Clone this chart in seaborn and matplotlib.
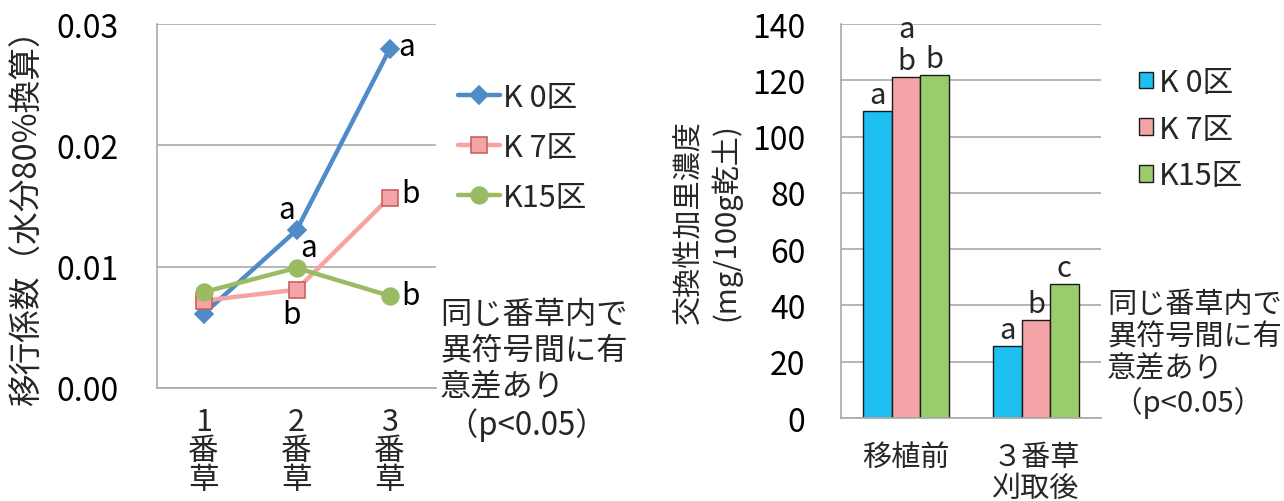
import matplotlib
matplotlib.use("Agg")
import matplotlib.pyplot as plt
import seaborn as sns
import pandas as pd
from matplotlib.lines import Line2D
from matplotlib.patches import Patch

# ---------------- data ----------------
cuts = ["1\n番\n草", "2\n番\n草", "3\n番\n草"]
plots = ["K 0区", "K 7区", "K15区"]
coef_k0 = [0.0061, 0.0130, 0.0279]
coef_k7 = [0.0072, 0.0081, 0.0157]
coef_k15 = [0.0079, 0.0099, 0.0076]
coef_letters_k0 = ["", "a", "a"]
coef_letters_k7 = ["", "b", "b"]
coef_letters_k15 = ["", "a", "b"]

times = ["移植前", "３番草\n刈取後"]
k_k0 = [109, 25.5]
k_k7 = [121, 34.7]
k_k15 = [122, 47.7]
bar_letters_k0 = ["a", "a"]
bar_letters_k7 = ["a\nb", "b"]
bar_letters_k15 = ["b", "c"]

left_yticks = [0.00, 0.01, 0.02, 0.03]
right_yticks = [0, 20, 40, 60, 80, 100, 120, 140]
note = "同じ番草内で\n異符号間に有\n意差あり\n （p<0.05）"

# ---------------- style ----------------
sns.set_theme(style="white")
plt.rcParams['font.family'] = ['Noto Sans CJK JP', 'DejaVu Sans']

line_colors = ["#4F8BC6", "#F7A3A5", "#9BBB63"]
marker_faces = ["#4F8BC6", "#F4A3A6", "#9BBB63"]
marker_edges = ["#4F8BC6", "#C8605E", "#9BBB63"]
markers = ["D", "s", "o"]
msizes = [9, 11, 12]
bar_colors = ["#1DC0F0", "#F4A3A6", "#9BCC6B"]
grid_c = "#A9A9A9"

W, H = 1284, 502
fig = plt.figure(figsize=(W / 100, H / 100), dpi=100)

def px_axes(l, t, r, b):
    return fig.add_axes([l / W, 1 - b / H, (r - l) / W, (b - t) / H])

def style_axes(ax, ypad):
    ax.tick_params(axis="x", which="major", length=6.5, color=grid_c, width=1.2, direction="out")
    ax.tick_params(axis="y", length=6.5, color=grid_c, width=1.2, pad=ypad, direction="out",
                   labelcolor="black")
    ax.yaxis.grid(True, color=grid_c, lw=1.2)
    ax.set_axisbelow(True)
    ax.set_xlabel("")
    ax.set_ylabel("")
    for s in ["top", "right"]:
        ax.spines[s].set_visible(False)
    for s in ["left", "bottom"]:
        ax.spines[s].set_color(grid_c)
        ax.spines[s].set_linewidth(1.2)

# ---------------- left chart ----------------
ax1 = px_axes(157, 25, 436, 389)
series = [coef_k0, coef_k7, coef_k15]
letters = [coef_letters_k0, coef_letters_k7, coef_letters_k15]
offsets = [
    [(0, 0), (-10, 21), (17, 3)],
    [(0, 0), (-5, -25), (21, 4)],
    [(0, 0), (12, 20), (21, 0)],
]
handles = []
for i, (vals, name) in enumerate(zip(series, plots)):
    df = pd.DataFrame({"cut": cuts, "val": vals})
    sns.lineplot(data=df, x="cut", y="val", ax=ax1, color=line_colors[i], lw=3.2,
                 marker=markers[i], markersize=msizes[i], markerfacecolor=marker_faces[i],
                 markeredgecolor=marker_edges[i], markeredgewidth=1.2, sort=False)
    for j, (v, lt) in enumerate(zip(vals, letters[i])):
        if lt:
            ax1.annotate(lt, (j, v), xytext=offsets[i][j], textcoords="offset pixels",
                         ha="center", va="center", fontsize=21.5, color="black")
    handles.append(Line2D([0], [0], color=line_colors[i], lw=3.2, marker=markers[i],
                          markersize=msizes[i], markerfacecolor=marker_faces[i],
                          markeredgecolor=marker_edges[i], markeredgewidth=1.2))

ax1.set_ylim(0, 0.03)
ax1.set_xlim(-0.5, 2.5)
ax1.set_yticks(left_yticks)
ax1.set_yticklabels([f"{v:.2f}" for v in left_yticks], fontsize=23)
ax1.set_xticks([-0.5, 0.5, 1.5, 2.5])
ax1.set_xticklabels([])
ax1.set_xticks([0, 1, 2], minor=True)
ax1.set_xticklabels(cuts, minor=True, fontsize=22, linespacing=0.92)
ax1.tick_params(axis="x", which="minor", length=0, pad=13)
style_axes(ax1, 21)

fig.text(28 / W, 1 - 210 / H, "移行係数（水分80%換算）", rotation=90, ha="center",
         va="center", fontsize=23.5)

fig.legend(handles, plots, loc="upper left", bbox_to_anchor=(458 / W, 1 - 83 / H),
           frameon=False, fontsize=22, handlelength=1.37, handletextpad=0.1,
           labelspacing=0.62, borderpad=0, borderaxespad=0)

fig.text(440 / W, 1 - 299 / H, note, ha="left", va="top", fontsize=22.5,
         linespacing=1.17)

# ---------------- right chart ----------------
ax2 = px_axes(841, 25, 1101, 419)
dfb = pd.DataFrame({
    "time": times * 3,
    "plot": [plots[0]] * 2 + [plots[1]] * 2 + [plots[2]] * 2,
    "val": k_k0 + k_k7 + k_k15,
})
sns.barplot(data=dfb, x="time", y="val", hue="plot", order=times, hue_order=plots,
            palette=bar_colors, width=0.655, edgecolor="#1a1a1a", linewidth=1.0,
            ax=ax2, legend=False, saturation=1)
bletters = [bar_letters_k0, bar_letters_k7, bar_letters_k15]
for ci, cont in enumerate(ax2.containers):
    for bi, bar in enumerate(cont):
        ax2.annotate(bletters[ci][bi], (bar.get_x() + bar.get_width() / 2, bar.get_height()),
                     xytext=(0, 1), textcoords="offset pixels", ha="center", va="bottom",
                     fontsize=21, linespacing=1.1)
ax2.set_ylim(0, 140)
ax2.set_xlim(-0.5, 1.5)
ax2.set_yticks(right_yticks)
ax2.set_yticklabels([str(v) for v in right_yticks], fontsize=23)
ax2.set_xticks([-0.5, 0.5, 1.5])
ax2.set_xticklabels([])
ax2.set_xticks([0, 1], minor=True)
ax2.set_xticklabels(times, minor=True, fontsize=21, linespacing=1.08)
ax2.tick_params(axis="x", which="minor", length=0, pad=17)
style_axes(ax2, 19)

fig.text(708 / W, 1 - 222 / H, "交換性加里濃度\n(mg/100g乾土)", rotation=90, ha="center",
         va="center", fontsize=21, linespacing=1.25)

bh = [Patch(facecolor=c, edgecolor="#1a1a1a", lw=1.0) for c in bar_colors]
fig.legend(bh, plots, loc="upper left", bbox_to_anchor=(1139 / W, 1 - 68 / H),
           frameon=False, fontsize=22, handlelength=0.46, handleheight=0.46,
           handletextpad=0.2, labelspacing=0.51, borderpad=0, borderaxespad=0)

fig.text(1107 / W, 1 - 290 / H, note, ha="left", va="top", fontsize=21, linespacing=1.1)

fig.savefig("out.png", dpi=100)
